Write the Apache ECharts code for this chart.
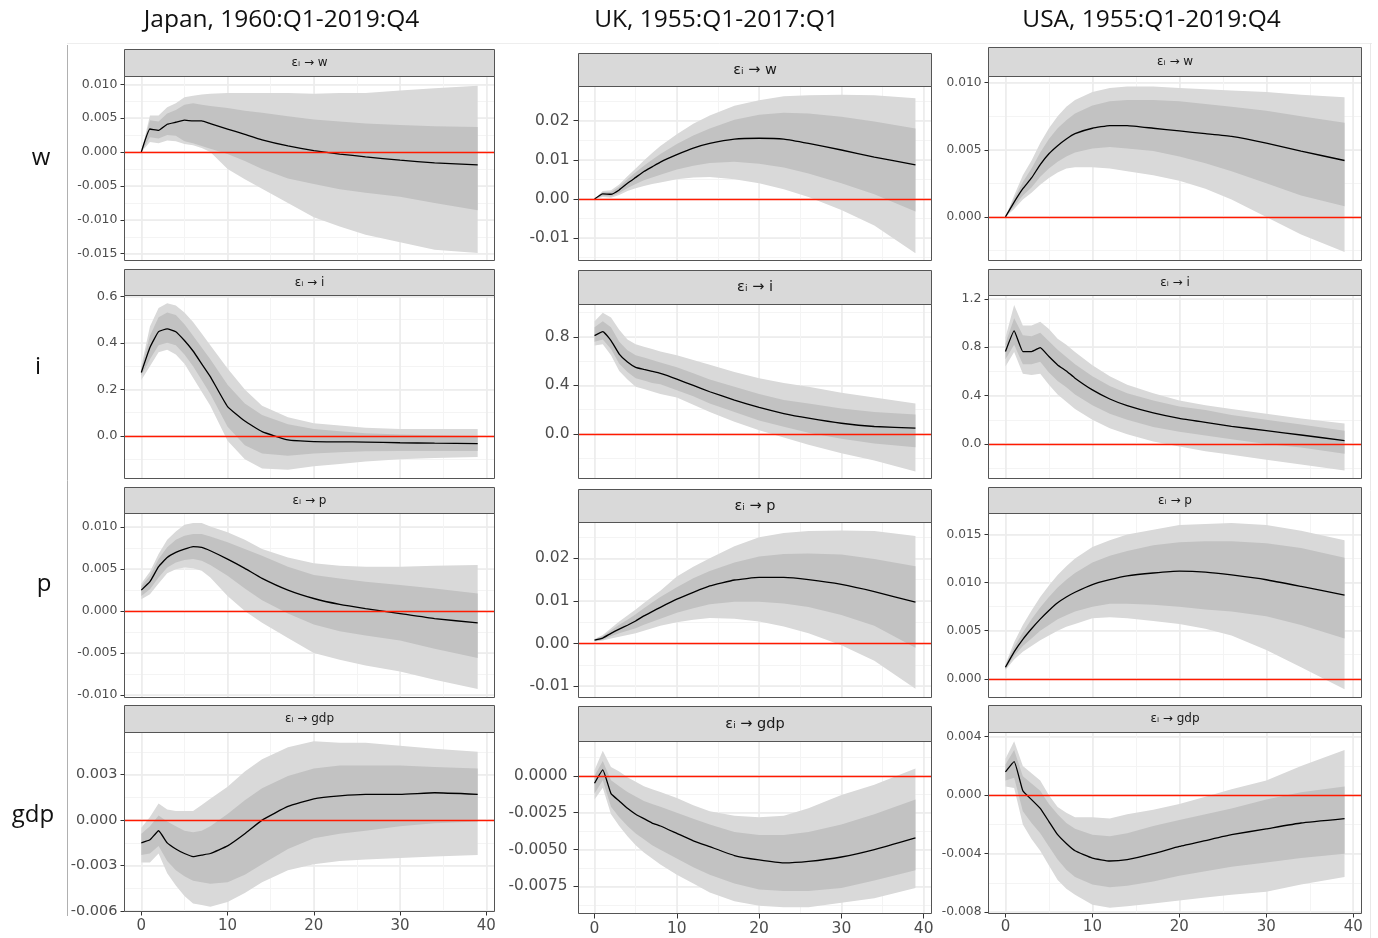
<!DOCTYPE html>
<html>
<head>
<meta charset="utf-8">
<script src="https://cdn.jsdelivr.net/npm/echarts@6/dist/echarts.min.js"></script>
<style>
  html, body { margin: 0; padding: 0; background: #fff; }
  #chart { width: 1378px; height: 938px; }
</style>
</head>
<body>
<div id="chart"></div>
<script>
// horizons (quarters after the shock) at which the responses are read
const H = [0, 1, 2, 3, 4, 5, 6, 7, 8, 10, 12, 14, 17, 20, 23, 26, 30, 34, 39];

const countries = ['Japan, 1960:Q1-2019:Q4', 'UK, 1955:Q1-2017:Q1', 'USA, 1955:Q1-2019:Q4'];
const variables = ['w', 'i', 'p', 'gdp'];
const xTicks = [0, 10, 20, 30, 40];

// Japan
const jpW_mid  = [0, 0.0034, 0.0032, 0.0041, 0.0044, 0.0047, 0.0046, 0.0046, 0.0042, 0.0034, 0.0026, 0.0018, 0.0009, 0.0002, -0.0003, -0.0007, -0.0012, -0.0016, -0.0019];
const jpW_lo68 = [0, 0.0022, 0.0020, 0.0025, 0.0024, 0.0016, 0.0013, 0.0009, 0.0005, -0.0003, -0.0013, -0.0025, -0.0039, -0.0047, -0.0055, -0.0060, -0.0066, -0.0075, -0.0086];
const jpW_hi68 = [0, 0.0047, 0.0045, 0.0057, 0.0062, 0.0070, 0.0072, 0.0070, 0.0068, 0.0065, 0.0061, 0.0058, 0.0053, 0.0048, 0.0045, 0.0042, 0.0040, 0.0038, 0.0037];
const jpW_lo95 = [0, 0.0015, 0.0013, 0.0017, 0.0016, 0.0012, 0.0010, 0.0006, 0.0000, -0.0025, -0.0040, -0.0054, -0.0075, -0.0096, -0.0110, -0.0122, -0.0133, -0.0144, -0.0149];
const jpW_hi95 = [0, 0.0054, 0.0054, 0.0066, 0.0072, 0.0081, 0.0083, 0.0085, 0.0086, 0.0087, 0.0087, 0.0087, 0.0087, 0.0086, 0.0087, 0.0087, 0.0091, 0.0094, 0.0098];

const jpI_mid  = [0.273, 0.38, 0.448, 0.46, 0.448, 0.41, 0.365, 0.31, 0.255, 0.126, 0.064, 0.019, -0.017, -0.024, -0.025, -0.026, -0.029, -0.031, -0.033];
const jpI_lo68 = [0.26, 0.33, 0.39, 0.40, 0.39, 0.35, 0.30, 0.24, 0.18, 0.04, -0.04, -0.075, -0.085, -0.075, -0.07, -0.066, -0.065, -0.065, -0.064];
const jpI_hi68 = [0.29, 0.43, 0.51, 0.53, 0.52, 0.48, 0.43, 0.38, 0.33, 0.22, 0.14, 0.09, 0.05, 0.03, 0.02, 0.012, 0.006, 0.003, 0.0];
const jpI_lo95 = [0.24, 0.30, 0.36, 0.37, 0.35, 0.31, 0.25, 0.19, 0.13, -0.02, -0.10, -0.14, -0.145, -0.13, -0.12, -0.11, -0.10, -0.095, -0.09];
const jpI_hi95 = [0.30, 0.47, 0.55, 0.57, 0.56, 0.53, 0.49, 0.44, 0.39, 0.29, 0.20, 0.13, 0.08, 0.055, 0.045, 0.035, 0.03, 0.03, 0.03];

const jpP_mid  = [0.0025, 0.0035, 0.0053, 0.0064, 0.0070, 0.0074, 0.0077, 0.0076, 0.0072, 0.0062, 0.0051, 0.0039, 0.0025, 0.0015, 0.0008, 0.0003, -0.0003, -0.0009, -0.0014];
const jpP_lo68 = [0.0018, 0.0026, 0.0040, 0.0052, 0.0058, 0.0061, 0.0062, 0.0060, 0.0055, 0.0042, 0.0027, 0.0013, -0.0003, -0.0016, -0.0024, -0.0029, -0.0035, -0.0045, -0.0056];
const jpP_hi68 = [0.0030, 0.0042, 0.0062, 0.0076, 0.0085, 0.0090, 0.0092, 0.0092, 0.0089, 0.0082, 0.0074, 0.0066, 0.0053, 0.0043, 0.0039, 0.0035, 0.0031, 0.0027, 0.0021];
const jpP_lo95 = [0.0014, 0.0020, 0.0033, 0.0045, 0.0050, 0.0052, 0.0051, 0.0048, 0.0040, 0.0018, 0.0000, -0.0014, -0.0032, -0.0050, -0.0058, -0.0065, -0.0072, -0.0082, -0.0093];
const jpP_hi95 = [0.0033, 0.0047, 0.0068, 0.0085, 0.0095, 0.0103, 0.0105, 0.0105, 0.0101, 0.0094, 0.0085, 0.0074, 0.0064, 0.0057, 0.0054, 0.0053, 0.0053, 0.0054, 0.0055];

const jpG_mid  = [-0.0015, -0.0013, -0.0007, -0.0015, -0.0019, -0.0022, -0.0024, -0.0023, -0.0022, -0.0017, -0.0009, 0.0000, 0.0009, 0.0014, 0.0016, 0.0017, 0.0017, 0.0018, 0.0017];
const jpG_lo68 = [-0.0023, -0.0022, -0.0017, -0.0027, -0.0033, -0.0037, -0.0040, -0.0041, -0.0042, -0.0041, -0.0036, -0.0029, -0.0019, -0.0012, -0.0009, -0.0007, -0.0004, -0.0002, -0.0001];
const jpG_hi68 = [-0.0009, -0.0004, 0.0003, -0.0001, -0.0004, -0.0007, -0.0008, -0.0007, -0.0004, 0.0004, 0.0013, 0.0021, 0.0029, 0.0034, 0.0036, 0.0036, 0.0036, 0.0035, 0.0034];
const jpG_lo95 = [-0.0028, -0.0028, -0.0022, -0.0035, -0.0043, -0.0050, -0.0055, -0.0056, -0.0057, -0.0054, -0.0048, -0.0041, -0.0033, -0.0029, -0.0027, -0.0026, -0.0025, -0.0024, -0.0023];
const jpG_hi95 = [-0.0005, 0.0002, 0.0011, 0.0007, 0.0006, 0.0006, 0.0006, 0.0010, 0.0014, 0.0022, 0.0032, 0.0040, 0.0048, 0.0052, 0.0051, 0.0051, 0.0049, 0.0047, 0.0045];

// UK
const ukW_mid  = [0, 0.0013, 0.0012, 0.0023, 0.0040, 0.0055, 0.0070, 0.0082, 0.0094, 0.0113, 0.0130, 0.0142, 0.0153, 0.0155, 0.0153, 0.0142, 0.0125, 0.0107, 0.0087];
const ukW_lo68 = [0, 0.0008, 0.0006, 0.0015, 0.0028, 0.0038, 0.0048, 0.0055, 0.0062, 0.0075, 0.0085, 0.0092, 0.0095, 0.0090, 0.0080, 0.0065, 0.0040, 0.0012, -0.0032];
const ukW_hi68 = [0, 0.0017, 0.0018, 0.0031, 0.0050, 0.0068, 0.0085, 0.0100, 0.0115, 0.0140, 0.0162, 0.0180, 0.0202, 0.0215, 0.0220, 0.0218, 0.0210, 0.0198, 0.0180];
const ukW_lo95 = [0, 0.0005, 0.0003, 0.0010, 0.0020, 0.0027, 0.0033, 0.0038, 0.0042, 0.0050, 0.0055, 0.0056, 0.0050, 0.0040, 0.0025, 0.0005, -0.0028, -0.0068, -0.0139];
const ukW_hi95 = [0, 0.0020, 0.0022, 0.0037, 0.0058, 0.0078, 0.0098, 0.0117, 0.0135, 0.0165, 0.0192, 0.0213, 0.0238, 0.0252, 0.0262, 0.0265, 0.0266, 0.0265, 0.0257];

const ukI_mid  = [0.811, 0.844, 0.770, 0.659, 0.593, 0.549, 0.532, 0.516, 0.499, 0.452, 0.400, 0.348, 0.279, 0.218, 0.168, 0.130, 0.088, 0.061, 0.047];
const ukI_lo68 = [0.76, 0.78, 0.70, 0.58, 0.51, 0.46, 0.44, 0.42, 0.41, 0.36, 0.31, 0.25, 0.18, 0.11, 0.06, 0.01, -0.04, -0.08, -0.11];
const ukI_hi68 = [0.88, 0.93, 0.88, 0.76, 0.69, 0.65, 0.63, 0.61, 0.59, 0.55, 0.50, 0.45, 0.39, 0.33, 0.28, 0.25, 0.21, 0.18, 0.16];
const ukI_lo95 = [0.73, 0.74, 0.65, 0.52, 0.45, 0.39, 0.37, 0.35, 0.33, 0.30, 0.24, 0.18, 0.10, 0.03, -0.03, -0.09, -0.16, -0.22, -0.31];
const ukI_hi95 = [0.93, 1.00, 0.96, 0.86, 0.78, 0.74, 0.72, 0.70, 0.68, 0.65, 0.61, 0.57, 0.51, 0.46, 0.42, 0.39, 0.34, 0.30, 0.25];

const ukP_mid  = [0.0008, 0.0013, 0.0024, 0.0034, 0.0043, 0.0053, 0.0065, 0.0075, 0.0085, 0.0104, 0.0120, 0.0135, 0.0149, 0.0155, 0.0155, 0.0150, 0.0139, 0.0122, 0.0097];
const ukP_lo68 = [0.0006, 0.0009, 0.0017, 0.0024, 0.0030, 0.0036, 0.0044, 0.0051, 0.0058, 0.0072, 0.0083, 0.0092, 0.0098, 0.0098, 0.0094, 0.0086, 0.0067, 0.0042, -0.0010];
const ukP_hi68 = [0.0010, 0.0017, 0.0031, 0.0044, 0.0056, 0.0069, 0.0083, 0.0096, 0.0109, 0.0132, 0.0153, 0.0170, 0.0190, 0.0204, 0.0210, 0.0211, 0.0209, 0.0198, 0.0181];
const ukP_lo95 = [0.0005, 0.0007, 0.0012, 0.0016, 0.0020, 0.0024, 0.0030, 0.0036, 0.0042, 0.0050, 0.0056, 0.0060, 0.0058, 0.0052, 0.0040, 0.0024, -0.0004, -0.0040, -0.0106];
const ukP_hi95 = [0.0011, 0.0020, 0.0036, 0.0052, 0.0066, 0.0080, 0.0095, 0.0110, 0.0124, 0.0157, 0.0180, 0.0200, 0.0228, 0.0249, 0.0259, 0.0264, 0.0265, 0.0264, 0.0252];

const ukG_mid  = [-0.0005, 0.0004, -0.0012, -0.0017, -0.0022, -0.0026, -0.0029, -0.0032, -0.0034, -0.0039, -0.0044, -0.0048, -0.0054, -0.0057, -0.0059, -0.0058, -0.0055, -0.0050, -0.0042];
const ukG_lo68 = [-0.0012, -0.0003, -0.0021, -0.0028, -0.0034, -0.0039, -0.0043, -0.0047, -0.0050, -0.0056, -0.0062, -0.0067, -0.0073, -0.0077, -0.0078, -0.0078, -0.0076, -0.0071, -0.0064];
const ukG_hi68 = [0.0000, 0.0010, -0.0003, -0.0007, -0.0011, -0.0014, -0.0017, -0.0019, -0.0021, -0.0025, -0.0029, -0.0033, -0.0038, -0.0040, -0.0040, -0.0038, -0.0033, -0.0026, -0.0016];
const ukG_lo95 = [-0.0016, -0.0008, -0.0026, -0.0034, -0.0041, -0.0047, -0.0052, -0.0056, -0.0060, -0.0067, -0.0073, -0.0079, -0.0085, -0.0088, -0.0089, -0.0089, -0.0086, -0.0083, -0.0076];
const ukG_hi95 = [0.0004, 0.0017, 0.0006, 0.0003, -0.0001, -0.0004, -0.0007, -0.0009, -0.0011, -0.0015, -0.0020, -0.0024, -0.0027, -0.0028, -0.0027, -0.0022, -0.0013, -0.0006, 0.0005];

// USA
const usW_mid  = [0, 0.0011, 0.0021, 0.0029, 0.0039, 0.0047, 0.0053, 0.0058, 0.0062, 0.0066, 0.0068, 0.0068, 0.0066, 0.0064, 0.0062, 0.0060, 0.0055, 0.0049, 0.0042];
const usW_lo68 = [0, 0.0008, 0.0016, 0.0022, 0.0030, 0.0036, 0.0041, 0.0045, 0.0048, 0.0051, 0.0052, 0.0051, 0.0049, 0.0045, 0.0040, 0.0034, 0.0025, 0.0016, 0.0008];
const usW_hi68 = [0, 0.0014, 0.0026, 0.0036, 0.0048, 0.0058, 0.0066, 0.0072, 0.0077, 0.0083, 0.0086, 0.0087, 0.0087, 0.0086, 0.0084, 0.0082, 0.0079, 0.0075, 0.0070];
const usW_lo95 = [0, 0.0006, 0.0013, 0.0018, 0.0024, 0.0029, 0.0033, 0.0036, 0.0037, 0.0037, 0.0036, 0.0034, 0.0031, 0.0027, 0.0021, 0.0013, 0.0000, -0.0013, -0.0026];
const usW_hi95 = [0, 0.0016, 0.0031, 0.0042, 0.0055, 0.0066, 0.0075, 0.0082, 0.0087, 0.0093, 0.0096, 0.0097, 0.0097, 0.0096, 0.0095, 0.0094, 0.0093, 0.0091, 0.0089];

const usI_mid  = [0.764, 0.935, 0.764, 0.764, 0.797, 0.723, 0.654, 0.604, 0.544, 0.447, 0.372, 0.317, 0.257, 0.212, 0.179, 0.146, 0.110, 0.074, 0.028];
const usI_lo68 = [0.70, 0.82, 0.66, 0.66, 0.68, 0.59, 0.52, 0.47, 0.41, 0.32, 0.25, 0.20, 0.14, 0.10, 0.07, 0.04, 0.00, -0.03, -0.08];
const usI_hi68 = [0.83, 1.04, 0.90, 0.89, 0.92, 0.85, 0.78, 0.72, 0.66, 0.56, 0.48, 0.42, 0.36, 0.31, 0.28, 0.24, 0.20, 0.16, 0.11];
const usI_lo95 = [0.64, 0.76, 0.58, 0.57, 0.58, 0.49, 0.41, 0.35, 0.29, 0.20, 0.13, 0.08, 0.02, -0.02, -0.06, -0.09, -0.13, -0.17, -0.22];
const usI_hi95 = [0.88, 1.15, 0.98, 0.98, 1.01, 0.95, 0.87, 0.82, 0.76, 0.65, 0.56, 0.49, 0.42, 0.36, 0.32, 0.29, 0.25, 0.21, 0.17];

const usP_mid  = [0.0012, 0.0028, 0.0041, 0.0052, 0.0062, 0.0071, 0.0079, 0.0085, 0.0090, 0.0098, 0.0103, 0.0107, 0.0110, 0.0112, 0.0111, 0.0108, 0.0103, 0.0096, 0.0087];
const usP_lo68 = [0.0010, 0.0024, 0.0034, 0.0042, 0.0050, 0.0056, 0.0062, 0.0066, 0.0070, 0.0075, 0.0078, 0.0078, 0.0077, 0.0075, 0.0072, 0.0070, 0.0065, 0.0056, 0.0042];
const usP_hi68 = [0.0014, 0.0033, 0.0048, 0.0062, 0.0074, 0.0085, 0.0095, 0.0103, 0.0110, 0.0121, 0.0128, 0.0133, 0.0139, 0.0142, 0.0143, 0.0143, 0.0141, 0.0136, 0.0126];
const usP_lo95 = [0.0009, 0.0020, 0.0028, 0.0034, 0.0040, 0.0045, 0.0050, 0.0054, 0.0057, 0.0063, 0.0064, 0.0063, 0.0060, 0.0057, 0.0052, 0.0045, 0.0030, 0.0012, -0.0011];
const usP_hi95 = [0.0015, 0.0038, 0.0056, 0.0071, 0.0085, 0.0097, 0.0108, 0.0117, 0.0125, 0.0137, 0.0144, 0.0150, 0.0155, 0.0160, 0.0161, 0.0162, 0.0160, 0.0154, 0.0144];

const usG_mid  = [0.0016, 0.0023, 0.0003, -0.0003, -0.0009, -0.0018, -0.0027, -0.0033, -0.0038, -0.0043, -0.0045, -0.0044, -0.0040, -0.0035, -0.0031, -0.0027, -0.0023, -0.0019, -0.0016];
const usG_lo68 = [0.0010, 0.0012, -0.0011, -0.0019, -0.0026, -0.0035, -0.0044, -0.0051, -0.0056, -0.0061, -0.0063, -0.0062, -0.0059, -0.0055, -0.0052, -0.0049, -0.0046, -0.0043, -0.0040];
const usG_hi68 = [0.0021, 0.0031, 0.0013, 0.0008, 0.0003, -0.0006, -0.0013, -0.0019, -0.0023, -0.0027, -0.0028, -0.0026, -0.0021, -0.0017, -0.0013, -0.0009, -0.0003, 0.0002, 0.0006];
const usG_lo95 = [0.0006, 0.0005, -0.0020, -0.0030, -0.0038, -0.0048, -0.0058, -0.0064, -0.0068, -0.0075, -0.0077, -0.0076, -0.0074, -0.0072, -0.0070, -0.0068, -0.0066, -0.0061, -0.0056];
const usG_hi95 = [0.0025, 0.0037, 0.0020, 0.0015, 0.0010, 0.0000, -0.0008, -0.0012, -0.0015, -0.0015, -0.0016, -0.0013, -0.0010, -0.0006, -0.0001, 0.0004, 0.0010, 0.0020, 0.0031];

// ---- layout (pixels) ----
// rows: [strip top, plot top, plot bottom]
const colLayout = [
  { left: 124.5, right: 494.5, stripFs: 12, xFs: 15, xMargin: 7, tick: 4,
    rows: [[49.5, 76.5, 260.5], [269.5, 295.5, 478.5], [487.5, 513.5, 697.5], [705.5, 732.5, 911.5]] },
  { left: 578.5, right: 931.5, stripFs: 14.5, xFs: 15.5, xMargin: 7, tick: 5,
    rows: [[53.5, 86.5, 260.5], [270.5, 304.5, 478.5], [489.5, 522.5, 697.5], [706.5, 741.5, 913.5]] },
  { left: 988.5, right: 1361.5, stripFs: 12, xFs: 15, xMargin: 6, tick: 4,
    rows: [[47.5, 76.5, 260.5], [269.5, 295.5, 478.5], [487.5, 513.5, 697.5], [705.5, 732.5, 913.5]] }
];

const panels = [
  { col: 0, row: 0, d: [jpW_mid, jpW_lo68, jpW_hi68, jpW_lo95, jpW_hi95], y: [-0.0160, 0.01115], step: 0.005, dec: 3, fs: 12.5, m: 7 },
  { col: 0, row: 1, d: [jpI_mid, jpI_lo68, jpI_hi68, jpI_lo95, jpI_hi95], y: [-0.1826, 0.6034], step: 0.2, dec: 1, fs: 13, m: 7 },
  { col: 0, row: 2, d: [jpP_mid, jpP_lo68, jpP_hi68, jpP_lo95, jpP_hi95], y: [-0.01031, 0.01164], step: 0.005, dec: 3, fs: 12.5, m: 7 },
  { col: 0, row: 3, d: [jpG_mid, jpG_lo68, jpG_hi68, jpG_lo95, jpG_hi95], y: [-0.00602, 0.00577], step: 0.003, dec: 3, fs: 14.5, m: 7 },
  { col: 1, row: 0, d: [ukW_mid, ukW_lo68, ukW_hi68, ukW_lo95, ukW_hi95], y: [-0.01573, 0.02872], step: 0.01, dec: 2, fs: 15.5, m: 9 },
  { col: 1, row: 1, d: [ukI_mid, ukI_lo68, ukI_hi68, ukI_lo95, ukI_hi95], y: [-0.368, 1.068], step: 0.4, dec: 1, fs: 15.5, m: 9 },
  { col: 1, row: 2, d: [ukP_mid, ukP_lo68, ukP_hi68, ukP_lo95, ukP_hi95], y: [-0.01264, 0.02838], step: 0.01, dec: 2, fs: 15.5, m: 9 },
  { col: 1, row: 3, d: [ukG_mid, ukG_lo68, ukG_hi68, ukG_lo95, ukG_hi95], y: [-0.00933, 0.00233], step: 0.0025, dec: 4, fs: 15.3, m: 11 },
  { col: 2, row: 0, d: [usW_mid, usW_lo68, usW_hi68, usW_lo95, usW_hi95], y: [-0.00324, 0.01045], step: 0.005, dec: 3, fs: 12.2, m: 7 },
  { col: 2, row: 1, d: [usI_mid, usI_lo68, usI_hi68, usI_lo95, usI_hi95], y: [-0.2856, 1.2277], step: 0.4, dec: 1, fs: 12.5, m: 7 },
  { col: 2, row: 2, d: [usP_mid, usP_lo68, usP_hi68, usP_lo95, usP_hi95], y: [-0.00195, 0.01719], step: 0.005, dec: 3, fs: 12.2, m: 7 },
  { col: 2, row: 3, d: [usG_mid, usG_lo68, usG_hi68, usG_lo95, usG_hi95], y: [-0.00809, 0.00429], step: 0.004, dec: 3, fs: 12.3, m: 7 }
];

const X_MIN = -1.95, X_MAX = 40.95;
const MAJOR = '#ebebeb', MINOR = '#f4f4f4';
const OUTER = '#d9d9d9', INNER = '#c2c2c2';
const FRAME = '#555555', LABEL = '#4d4d4d';
const FONT = 'DejaVu Sans';

const fmt = (v, d) => (Math.abs(v) < 1e-12 ? 0 : v).toFixed(d);

function ticksOf(min, max, step) {
  const out = [];
  for (let i = Math.ceil(min / step - 1e-9); i * step <= max + 1e-12; i++) out.push(+(i * step).toFixed(10));
  return out;
}

function band(k, lo, hi, color, z) {
  return {
    type: 'custom', xAxisIndex: 2 * k + 1, yAxisIndex: 2 * k + 1, z: z, silent: true, clip: true,
    data: H.map((h, i) => [h, lo[i], hi[i]]),
    encode: { x: 0, y: [1, 2] },
    renderItem: function (params, api) {
      if (params.dataIndex !== 0) return null;
      const pts = [];
      for (let i = 0; i < H.length; i++) pts.push(api.coord([H[i], hi[i]]));
      for (let i = H.length - 1; i >= 0; i--) pts.push(api.coord([H[i], lo[i]]));
      return { type: 'polygon', shape: { points: pts }, style: { fill: color } };
    }
  };
}

const grids = [], xAxes = [], yAxes = [], series = [], graphics = [];

panels.forEach((p, k) => {
  const c = colLayout[p.col];
  const r = c.rows[p.row];
  const left = c.left, top = r[1], width = c.right - c.left, height = r[2] - r[1];
  const bottomRow = p.row === 3;
  const yT = ticksOf(p.y[0], p.y[1], p.step);

  grids.push({ left: left, top: top, width: width, height: height, show: false, outerBoundsMode: 'none' });

  // minor grid lines (drawn first)
  xAxes.push({
    type: 'value', gridIndex: k, position: 'bottom', min: X_MIN, max: X_MAX, minInterval: 5, maxInterval: 5,
    axisLine: { show: false, onZero: false }, axisTick: { show: false }, axisLabel: { show: false },
    splitLine: { show: true, lineStyle: { color: MINOR, width: 1 } }
  });
  yAxes.push({
    type: 'value', gridIndex: k, position: 'left', min: p.y[0], max: p.y[1], minInterval: p.step / 2, maxInterval: p.step / 2,
    axisLine: { show: false, onZero: false }, axisTick: { show: false }, axisLabel: { show: false },
    splitLine: { show: true, lineStyle: { color: MINOR, width: 1 } }
  });
  // major axes
  xAxes.push({
    type: 'value', gridIndex: k, position: 'bottom', min: X_MIN, max: X_MAX, minInterval: 10, maxInterval: 10,
    axisLine: { show: false, onZero: false },
    axisTick: { show: bottomRow, length: c.tick, customValues: xTicks, lineStyle: { color: '#333' } },
    axisLabel: { show: bottomRow, customValues: xTicks, color: LABEL, fontFamily: FONT, fontSize: c.xFs, margin: c.xMargin },
    splitLine: { show: true, lineStyle: { color: MAJOR, width: 1.5 } }
  });
  yAxes.push({
    type: 'value', gridIndex: k, position: 'left', min: p.y[0], max: p.y[1], minInterval: p.step, maxInterval: p.step,
    axisLine: { show: false, onZero: false },
    axisTick: { show: true, length: c.tick, customValues: yT, lineStyle: { color: '#333' } },
    axisLabel: { show: true, customValues: yT, color: LABEL, fontFamily: FONT, fontSize: p.fs, margin: p.m,
      formatter: v => fmt(v, p.dec) },
    splitLine: { show: true, lineStyle: { color: MAJOR, width: 1.5 } }
  });

  const [mid, lo68, hi68, lo95, hi95] = p.d;
  series.push(band(k, lo95, hi95, OUTER, 1));
  series.push(band(k, lo68, hi68, INNER, 2));
  series.push({
    type: 'line', xAxisIndex: 2 * k + 1, yAxisIndex: 2 * k + 1, z: 4, silent: true,
    data: H.map((h, i) => [h, mid[i]]), symbol: 'none', smooth: 0.12,
    lineStyle: { color: '#000', width: 1.3 },
    markLine: {
      silent: true, symbol: 'none', label: { show: false },
      lineStyle: { color: '#ff1a00', width: 1.3, type: 'solid' },
      data: [{ yAxis: 0 }]
    }
  });

  // facet strip and panel frame
  graphics.push({
    type: 'rect', z: 50,
    shape: { x: left, y: r[0], width: width, height: r[1] - r[0] },
    style: { fill: '#d9d9d9', stroke: FRAME, lineWidth: 1 }
  });
  graphics.push({
    type: 'text', z: 51, x: left + width / 2, y: (r[0] + r[1]) / 2,
    style: { text: 'ε\u1d62 \u2192 ' + variables[p.row], fill: '#1a1a1a', font: c.stripFs + 'px "' + FONT + '"',
      textAlign: 'center', textVerticalAlign: 'middle', align: 'center', verticalAlign: 'middle' }
  });
  graphics.push({
    type: 'rect', z: 50,
    shape: { x: left, y: top, width: width, height: height },
    style: { fill: 'none', stroke: FRAME, lineWidth: 1 }
  });
});

// column titles and row labels
const titleX = [281.5, 716.5, 1151.5];
countries.forEach((t, i) => graphics.push({
  type: 'text', z: 60, x: titleX[i], y: 20,
  style: { text: t, fill: '#111', font: '24.5px "Open Sans"', textAlign: 'center', textVerticalAlign: 'middle', align: 'center', verticalAlign: 'middle' }
}));
const rowLabelPos = [[41, 158], [38, 367], [44, 584], [33, 815]];
variables.forEach((v, i) => graphics.push({
  type: 'text', z: 60, x: rowLabelPos[i][0], y: rowLabelPos[i][1],
  style: { text: v, fill: '#111', font: '24px "Open Sans"', textAlign: 'center', textVerticalAlign: 'middle', align: 'center', verticalAlign: 'middle' }
}));
// faint frame lines of the assembled figure
graphics.push({ type: 'line', z: 10, shape: { x1: 67.5, y1: 45, x2: 67.5, y2: 916 }, style: { stroke: '#b0b0b0', lineWidth: 1 } });
graphics.push({ type: 'line', z: 10, shape: { x1: 67, y1: 43.5, x2: 1372, y2: 43.5 }, style: { stroke: '#eeeeee', lineWidth: 1 } });
graphics.push({ type: 'line', z: 10, shape: { x1: 1370.5, y1: 43, x2: 1370.5, y2: 938 }, style: { stroke: '#e8e8e8', lineWidth: 1 } });

const chart = echarts.init(document.getElementById('chart'));
chart.setOption({
  animation: false,
  backgroundColor: '#fff',
  grid: grids,
  xAxis: xAxes,
  yAxis: yAxes,
  series: series,
  graphic: { elements: graphics }
});
</script>
</body>
</html>
